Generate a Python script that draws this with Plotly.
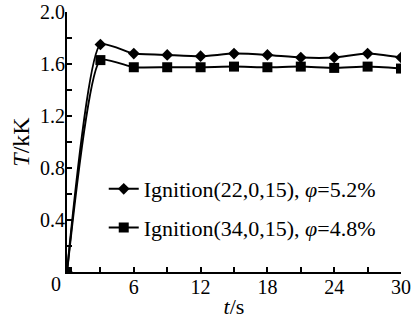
import plotly.graph_objects as go

t = [0, 3, 6, 9, 12, 15, 18, 21, 24, 27, 30]
T_22 = [0.0, 1.75, 1.68, 1.67, 1.66, 1.68, 1.67, 1.65, 1.65, 1.68, 1.65]
T_34 = [0.0, 1.63, 1.575, 1.575, 1.575, 1.58, 1.575, 1.58, 1.57, 1.58, 1.565]
name_22 = "Ignition(22,0,15), <i>φ</i>=5.2%"
name_34 = "Ignition(34,0,15), <i>φ</i>=4.8%"
x_ticks = [6, 12, 18, 24, 30]
y_ticks = [0.4, 0.8, 1.2, 1.6, 2.0]

FONT = "Liberation Serif"

fig = go.Figure()
fig.add_trace(go.Scatter(x=t, y=T_22, name=name_22, mode="lines+markers",
                         line=dict(color="black", width=2, shape="spline", smoothing=0.5),
                         marker=dict(symbol="diamond", size=9, color="black"),
                         legendgroup="a"))
fig.add_trace(go.Scatter(x=t, y=T_34, name=name_34, mode="lines+markers",
                         line=dict(color="black", width=2, shape="spline", smoothing=0.5),
                         marker=dict(symbol="square", size=10, color="black"),
                         legendgroup="b"))

fig.add_annotation(x=0, y=0, xref="x", yref="y", text="0", showarrow=False,
                   xanchor="right", yanchor="top", xshift=-4, yshift=1,
                   font=dict(family=FONT, size=20, color="black"))

fig.update_layout(
    width=419, height=321,
    margin=dict(l=67, r=18, t=12, b=49, autoexpand=False),
    plot_bgcolor="white", paper_bgcolor="white",
    font=dict(family=FONT, size=20, color="black"),
    showlegend=True,
    legend=dict(x=0.11, y=0.40, xanchor="left", yanchor="top",
                bgcolor="rgba(0,0,0,0)", traceorder="grouped", tracegroupgap=7,
                font=dict(family=FONT, size=22, color="black")),
    xaxis=dict(range=[0, 30], showline=True, linecolor="black", linewidth=2,
               automargin=False,
               tickvals=x_ticks, ticks="inside", ticklen=5, tickwidth=1.5, tickcolor="black",
               ticklabelstandoff=-4, tickfont=dict(family=FONT, size=20, color="black"),
               minor=dict(dtick=3, tick0=0, ticks="inside", ticklen=5, tickwidth=1.5, tickcolor="black"),
               showgrid=False, zeroline=False,
               title=dict(text="<i>t</i>/s", standoff=2, font=dict(family=FONT, size=22, color="black"))),
    yaxis=dict(range=[0, 2.0], showline=True, linecolor="black", linewidth=2,
               automargin=False,
               tickvals=y_ticks, ticktext=[f"{v:.1f}" for v in y_ticks],
               tickfont=dict(family=FONT, size=20, color="black"), ticklabelstandoff=-4,
               ticks="inside", ticklen=5, tickwidth=1.5, tickcolor="black",
               minor=dict(dtick=0.2, tick0=0, ticks="inside", ticklen=5, tickwidth=1.5, tickcolor="black"),
               showgrid=False, zeroline=False,
               title=dict(text="<i>T</i>/kK", standoff=4, font=dict(family=FONT, size=24, color="black"))),
)

fig.write_html("out.html")
